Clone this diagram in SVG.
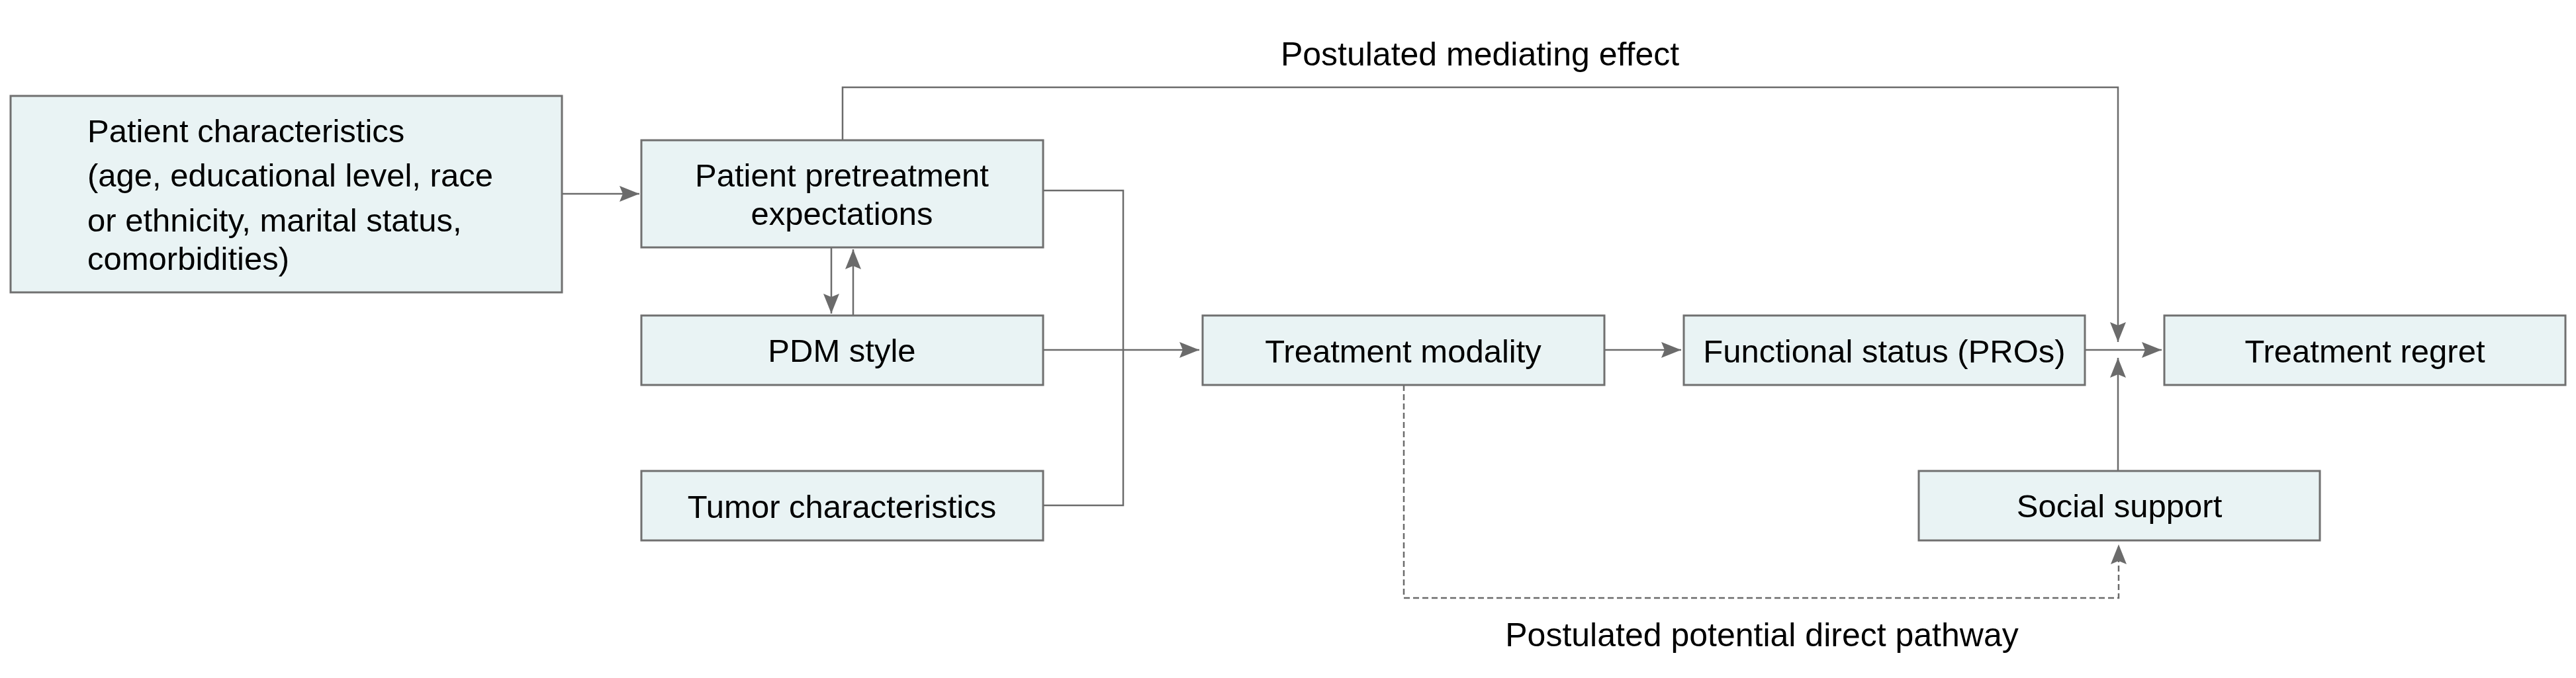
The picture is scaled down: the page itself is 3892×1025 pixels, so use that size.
<svg xmlns="http://www.w3.org/2000/svg" width="3892" height="1025" viewBox="0 0 3892 1025">
<style>
.box{fill:#e9f3f4;stroke:#707070;stroke-width:3}
.t{font-family:"Liberation Sans",Arial,sans-serif;font-size:49px;fill:#000}
.lbl{font-size:50px}
.c{text-anchor:middle}
.ln{fill:none;stroke:#6b6b6b;stroke-width:2.5}
.dash{fill:none;stroke:#6b6b6b;stroke-width:2.5;stroke-dasharray:9,5}
</style>
<defs>
<marker id="ah" viewBox="0 0 30 24" refX="30" refY="12" markerWidth="30" markerHeight="24" markerUnits="userSpaceOnUse" orient="auto">
<path d="M0,0 L30,12 L0,24 L5,12 Z" fill="#6b6b6b"/>
</marker>
</defs>
<rect width="3892" height="1025" fill="#fff"/>
<g id="connectors">
<line class="ln" x1="849" y1="293" x2="966" y2="293" marker-end="url(#ah)"/>
<line class="ln" x1="1256" y1="374" x2="1256" y2="474" marker-end="url(#ah)"/>
<line class="ln" x1="1289" y1="477" x2="1289" y2="377" marker-end="url(#ah)"/>
<path class="ln" d="M1576,288 H1697 V764 H1576"/>
<line class="ln" x1="1576" y1="529" x2="1812" y2="529" marker-end="url(#ah)"/>
<line class="ln" x1="2424" y1="529" x2="2540" y2="529" marker-end="url(#ah)"/>
<line class="ln" x1="3150" y1="529" x2="3266" y2="529" marker-end="url(#ah)"/>
<path class="ln" d="M1273,212 V132 H3200 V517" marker-end="url(#ah)"/>
<line class="ln" x1="3200" y1="712" x2="3200" y2="541" marker-end="url(#ah)"/>
<path class="dash" d="M2121,582 V904 H3201 V823" marker-end="url(#ah)"/>
<text class="t lbl c" x="2236" y="99">Postulated mediating effect</text>
<text class="t lbl c" x="2662" y="977">Postulated potential direct pathway</text>
</g>
<g id="patient-characteristics">
<rect class="box" x="16" y="145" width="833" height="297"/>
<text class="t" x="132" y="215">Patient characteristics</text>
<text class="t" x="132" y="282">(age, educational level, race</text>
<text class="t" x="132" y="350">or ethnicity, marital status,</text>
<text class="t" x="132" y="408">comorbidities)</text>
</g>
<g id="pretreatment-expectations">
<rect class="box" x="969" y="212" width="607" height="162"/>
<text class="t c" x="1272" y="282">Patient pretreatment</text>
<text class="t c" x="1272" y="340">expectations</text>
</g>
<g id="pdm-style">
<rect class="box" x="969" y="477" width="607" height="105"/>
<text class="t c" x="1272" y="547">PDM style</text>
</g>
<g id="tumor-characteristics">
<rect class="box" x="969" y="712" width="607" height="105"/>
<text class="t c" x="1272" y="783">Tumor characteristics</text>
</g>
<g id="treatment-modality">
<rect class="box" x="1817" y="477" width="607" height="105"/>
<text class="t c" x="2120" y="548">Treatment modality</text>
</g>
<g id="functional-status">
<rect class="box" x="2544" y="477" width="606" height="105"/>
<text class="t c" x="2847" y="548">Functional status (PROs)</text>
</g>
<g id="treatment-regret">
<rect class="box" x="3270" y="477" width="606" height="105"/>
<text class="t c" x="3573" y="548">Treatment regret</text>
</g>
<g id="social-support">
<rect class="box" x="2899" y="712" width="606" height="105"/>
<text class="t c" x="3202" y="782">Social support</text>
</g>
</svg>
